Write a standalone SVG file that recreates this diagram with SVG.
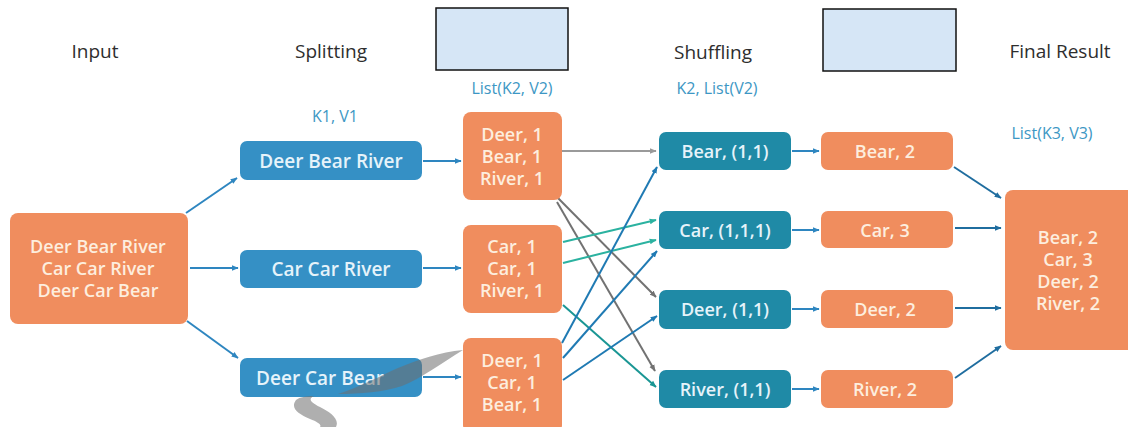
<svg xmlns="http://www.w3.org/2000/svg" width="1128" height="427" viewBox="0 0 1128 427">
  <style>
    .title { font-family: "Open Sans", "Noto Sans", sans-serif; font-size: 19px; fill: #2e2e2e; text-anchor: middle; dominant-baseline: central; }
    .kv { font-family: "Open Sans", "Noto Sans", sans-serif; font-size: 16px; fill: #3d97c4; text-anchor: middle; dominant-baseline: central; }
    .orange { fill: #f08d5e; }
    .split { fill: #3590c5; }
    .shuf { fill: #1f8aa6; }
    .ph { fill: #d6e6f6; stroke: #111; stroke-width: 1.5; }
    .lbl { font-family: "Open Sans", "Noto Sans", sans-serif; font-size: 18px; font-weight: 600; text-anchor: middle; dominant-baseline: central; }
    .lg { font-size: 19px; }
    .lo { fill: #fdeede; }
    .lb { fill: #e6f3fa; }
    .c line { stroke-width: 2; fill: none; }
    .blue { stroke: #2e86c0; }
    .dblue { stroke: #1f6d9f; }
    .lgray { stroke: #9a9a9a; }
    .gray { stroke: #727272; }
    .green { stroke: #2bb2a0; }
    .teal { stroke: #1a9694; }
    .mblue { stroke: #1f7ab3; }
  </style>
  <defs>
    <marker id="ab" viewBox="0 0 10 10" refX="9" refY="5" markerWidth="7" markerHeight="7" markerUnits="userSpaceOnUse" orient="auto"><path d="M0,1 L10,5 L0,9 z" fill="#2e86c0"/></marker>
    <marker id="adb" viewBox="0 0 10 10" refX="9" refY="5" markerWidth="7" markerHeight="7" markerUnits="userSpaceOnUse" orient="auto"><path d="M0,1 L10,5 L0,9 z" fill="#1f6d9f"/></marker>
    <marker id="alg" viewBox="0 0 10 10" refX="9" refY="5" markerWidth="7" markerHeight="7" markerUnits="userSpaceOnUse" orient="auto"><path d="M0,1 L10,5 L0,9 z" fill="#9a9a9a"/></marker>
    <marker id="ag" viewBox="0 0 10 10" refX="9" refY="5" markerWidth="7" markerHeight="7" markerUnits="userSpaceOnUse" orient="auto"><path d="M0,1 L10,5 L0,9 z" fill="#727272"/></marker>
    <marker id="agr" viewBox="0 0 10 10" refX="9" refY="5" markerWidth="7" markerHeight="7" markerUnits="userSpaceOnUse" orient="auto"><path d="M0,1 L10,5 L0,9 z" fill="#2bb2a0"/></marker>
    <marker id="at" viewBox="0 0 10 10" refX="9" refY="5" markerWidth="7" markerHeight="7" markerUnits="userSpaceOnUse" orient="auto"><path d="M0,1 L10,5 L0,9 z" fill="#1a9694"/></marker>
    <marker id="amb" viewBox="0 0 10 10" refX="9" refY="5" markerWidth="7" markerHeight="7" markerUnits="userSpaceOnUse" orient="auto"><path d="M0,1 L10,5 L0,9 z" fill="#1f7ab3"/></marker>
  </defs>

  <rect width="1128" height="427" fill="#ffffff"/>

  <!-- column headings -->
  <g id="headings">
    <text class="title" x="95" y="51">Input</text>
    <text class="title" x="331" y="51">Splitting</text>
    <rect class="ph" x="436" y="8" width="132" height="62"/>
    <text class="title" x="713" y="52">Shuffling</text>
    <rect class="ph" x="823" y="9" width="133" height="62"/>
    <text class="title" x="1060" y="51">Final Result</text>
    <text class="kv" x="335" y="116">K1, V1</text>
    <text class="kv" x="512" y="88">List(K2, V2)</text>
    <text class="kv" x="717" y="88">K2, List(V2)</text>
    <text class="kv" x="1052" y="133">List(K3, V3)</text>
  </g>

  <!-- connectors -->
  <g id="connectors" class="c">
    <line class="blue" x1="186" y1="213" x2="237" y2="178" marker-end="url(#ab)"/>
    <line class="blue" x1="190" y1="268" x2="238" y2="268" marker-end="url(#ab)"/>
    <line class="blue" x1="187" y1="321" x2="238" y2="358" marker-end="url(#ab)"/>

    <line class="blue" x1="423" y1="161" x2="461" y2="161" marker-end="url(#ab)"/>
    <line class="blue" x1="423" y1="268" x2="461" y2="268" marker-end="url(#ab)"/>
    <line class="blue" x1="423" y1="377" x2="461" y2="377" marker-end="url(#ab)"/>

    <line class="lgray" x1="562" y1="151" x2="656" y2="151" marker-end="url(#alg)"/>
    <line class="gray" x1="555" y1="195" x2="656" y2="297" marker-end="url(#ag)"/>
    <line class="gray" x1="557" y1="202" x2="655" y2="371" marker-end="url(#ag)"/>
    <line class="green" x1="563" y1="242" x2="656" y2="220" marker-end="url(#agr)"/>
    <line class="green" x1="563" y1="263" x2="656" y2="240" marker-end="url(#agr)"/>
    <line class="teal" x1="563" y1="305" x2="656" y2="387" marker-end="url(#at)"/>
    <line class="mblue" x1="562" y1="343" x2="657" y2="167" marker-end="url(#amb)"/>
    <line class="mblue" x1="563" y1="358" x2="657" y2="251" marker-end="url(#amb)"/>
    <line class="mblue" x1="563" y1="380" x2="657" y2="316" marker-end="url(#amb)"/>

    <line class="blue" x1="792" y1="151" x2="819" y2="151" marker-end="url(#ab)"/>
    <line class="blue" x1="792" y1="230" x2="819" y2="230" marker-end="url(#ab)"/>
    <line class="blue" x1="792" y1="309" x2="819" y2="309" marker-end="url(#ab)"/>
    <line class="blue" x1="792" y1="389" x2="819" y2="389" marker-end="url(#ab)"/>

    <line class="dblue" x1="954" y1="167" x2="1001" y2="198" marker-end="url(#adb)"/>
    <line class="dblue" x1="955" y1="228" x2="1001" y2="228" marker-end="url(#adb)"/>
    <line class="dblue" x1="955" y1="308" x2="1001" y2="308" marker-end="url(#adb)"/>
    <line class="dblue" x1="955" y1="378" x2="1001" y2="346" marker-end="url(#adb)"/>
  </g>

  <!-- input -->
  <g id="input">
    <rect class="orange" x="10" y="213" width="178" height="111" rx="8"/>
    <text class="lbl lo" x="98" y="246">Deer Bear River</text>
    <text class="lbl lo" x="98" y="268">Car Car River</text>
    <text class="lbl lo" x="98" y="290">Deer Car Bear</text>
  </g>

  <!-- splitting -->
  <g id="split1">
    <rect class="split" x="240" y="141" width="182" height="39" rx="7"/>
    <text class="lbl lg lb" x="331" y="161">Deer Bear River</text>
  </g>
  <g id="split2">
    <rect class="split" x="240" y="250" width="182" height="38" rx="7"/>
    <text class="lbl lg lb" x="331" y="269">Car Car River</text>
  </g>
  <g id="split3">
    <rect class="split" x="240" y="358" width="182" height="39" rx="7"/>
    <text class="lbl lg lb" x="320" y="378">Deer Car Bear</text>
  </g>

  <!-- mapping -->
  <g id="map1">
    <rect class="orange" x="463" y="112" width="99" height="88" rx="8"/>
    <text class="lbl lo" x="512" y="134">Deer, 1</text>
    <text class="lbl lo" x="512" y="156">Bear, 1</text>
    <text class="lbl lo" x="512" y="178">River, 1</text>
  </g>
  <g id="map2">
    <rect class="orange" x="463" y="225" width="99" height="88" rx="8"/>
    <text class="lbl lo" x="512" y="246">Car, 1</text>
    <text class="lbl lo" x="512" y="268">Car, 1</text>
    <text class="lbl lo" x="512" y="290">River, 1</text>
  </g>
  <g id="map3">
    <rect class="orange" x="463" y="338" width="99" height="95" rx="8"/>
    <text class="lbl lo" x="512" y="360">Deer, 1</text>
    <text class="lbl lo" x="512" y="382">Car, 1</text>
    <text class="lbl lo" x="512" y="404">Bear, 1</text>
  </g>

  <!-- shuffling -->
  <g id="shuf-bear">
    <rect class="shuf" x="659" y="132" width="132" height="38" rx="7"/>
    <text class="lbl lb" x="725" y="151">Bear, (1,1)</text>
  </g>
  <g id="shuf-car">
    <rect class="shuf" x="659" y="211" width="132" height="38" rx="7"/>
    <text class="lbl lb" x="725" y="230">Car, (1,1,1)</text>
  </g>
  <g id="shuf-deer">
    <rect class="shuf" x="659" y="290" width="132" height="39" rx="7"/>
    <text class="lbl lb" x="725" y="309">Deer, (1,1)</text>
  </g>
  <g id="shuf-river">
    <rect class="shuf" x="659" y="370" width="132" height="38" rx="7"/>
    <text class="lbl lb" x="725" y="389">River, (1,1)</text>
  </g>

  <!-- reducing -->
  <g id="red-bear">
    <rect class="orange" x="821" y="132" width="132" height="38" rx="7"/>
    <text class="lbl lo" x="885" y="151">Bear, 2</text>
  </g>
  <g id="red-car">
    <rect class="orange" x="821" y="211" width="132" height="37" rx="7"/>
    <text class="lbl lo" x="885" y="230">Car, 3</text>
  </g>
  <g id="red-deer">
    <rect class="orange" x="821" y="290" width="132" height="38" rx="7"/>
    <text class="lbl lo" x="885" y="309">Deer, 2</text>
  </g>
  <g id="red-river">
    <rect class="orange" x="821" y="370" width="132" height="38" rx="7"/>
    <text class="lbl lo" x="885" y="389">River, 2</text>
  </g>

  <!-- final result -->
  <g id="final">
    <rect class="orange" x="1005" y="190" width="130" height="160" rx="8"/>
    <text class="lbl lo" x="1068" y="237">Bear, 2</text>
    <text class="lbl lo" x="1068" y="259">Car, 3</text>
    <text class="lbl lo" x="1068" y="281">Deer, 2</text>
    <text class="lbl lo" x="1068" y="303">River, 2</text>
  </g>

  <!-- grey brush stroke over the lower split box -->
  <g id="swoosh" fill="#6f6f6f" opacity="0.55">
    <path d="M463,350 C440,352 418,360 398,368 C380,376 362,386 338,394 C360,394 384,392 402,386 C422,378 440,364 463,350 Z"/>
    <path d="M296,400 C290,408 298,414 310,419 C318,422 322,425 320,427 L336,427 C340,419 330,412 320,407 C310,402 308,399 314,396 C306,396 300,397 296,400 Z"/>
  </g>
</svg>
